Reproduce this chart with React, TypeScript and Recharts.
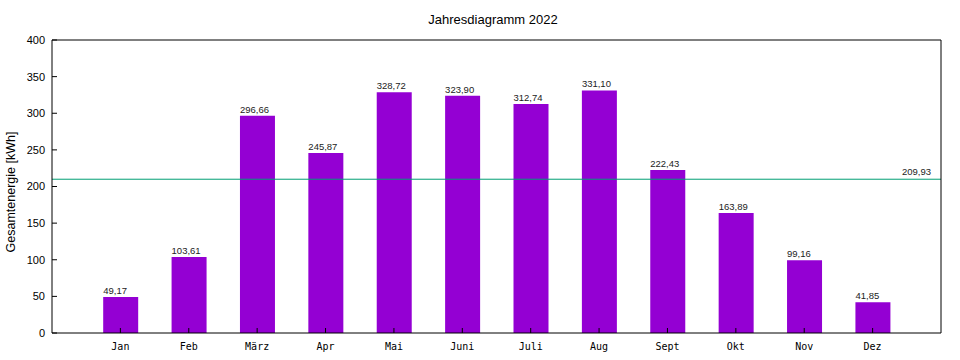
import React from "react";
import { BarChart, Bar, XAxis, YAxis, ReferenceLine, LabelList } from "recharts";

const months = ["Jan", "Feb", "März", "Apr", "Mai", "Juni", "Juli", "Aug", "Sept", "Okt", "Nov", "Dez"];
const energy = [49.17, 103.61, 296.66, 245.87, 328.72, 323.9, 312.74, 331.1, 222.43, 163.89, 99.16, 41.85];
const average = 209.93;
const yTicks = [0, 50, 100, 150, 200, 250, 300, 350, 400];
const xTicks = months.map((_, i) => i);

const data = months.map((m, i) => ({ x: i, name: m, value: energy[i] }));

const sans = "'Liberation Sans', Arial, sans-serif";
const mono = "'DejaVu Sans Mono', monospace";

const fmt = (v: number) => v.toFixed(2).replace(".", ",");

// gnuplot puts the value label at the left edge of the bar
function BarValue(props: any) {
  const { x, y, value } = props;
  return (
    <text x={x} y={y - 3} fontSize={9.5} fontFamily={sans} fill="#222">
      {fmt(Number(value))}
    </text>
  );
}

function AvgLabel(props: any) {
  const { viewBox } = props;
  return (
    <text
      x={viewBox.x + viewBox.width - 10}
      y={viewBox.y - 4}
      textAnchor="end"
      fontSize={9.5}
      fontFamily={sans}
      fill="#222"
    >
      {fmt(average)}
    </text>
  );
}

export default function App() {
  return (
    <div style={{ position: "absolute", left: 0, top: 0, width: 960, height: 360, background: "#fff" }}>
      <div
        style={{
          position: "absolute",
          left: 393,
          top: 13,
          width: 200,
          textAlign: "center",
          fontFamily: sans,
          fontSize: 13,
          lineHeight: "13px",
          color: "#000",
        }}
      >
        Jahresdiagramm 2022
      </div>
      <div
        style={{
          position: "absolute",
          left: 11,
          top: 192,
          transform: "translate(-50%, -50%) rotate(-90deg)",
          whiteSpace: "nowrap",
          fontFamily: sans,
          fontSize: 12.5,
          lineHeight: "12.5px",
          color: "#000",
        }}
      >
        Gesamtenergie [kWh]
      </div>
      <BarChart width={960} height={360} data={data} margin={{ top: 0, right: 0, bottom: 0, left: 0 }}>
        <XAxis
          dataKey="x"
          type="number"
          domain={[-1, 12]}
          ticks={xTicks}
          interval={0}
          tickFormatter={(i) => months[i]}
          height={27}
          tickSize={-5}
          tickMargin={15}
          stroke="#000"
          tick={{ fontSize: 10, fontFamily: mono, fill: "#000" }}
        />
        <XAxis
          xAxisId="top"
          orientation="top"
          dataKey="x"
          type="number"
          domain={[-1, 12]}
          ticks={xTicks}
          interval={0}
          height={40}
          tickSize={-5}
          stroke="#000"
          tick={false}
        />
        <YAxis
          domain={[0, 400]}
          ticks={yTicks}
          interval={0}
          width={52}
          tickSize={-5}
          tickMargin={12}
          stroke="#000"
          tick={{ fontSize: 11, fontFamily: sans, fill: "#000" }}
        />
        <YAxis
          yAxisId="right"
          orientation="right"
          domain={[0, 400]}
          ticks={yTicks}
          interval={0}
          width={19}
          tickSize={-5}
          stroke="#000"
          tick={false}
        />
        <Bar dataKey="value" fill="#9400D3" barSize={35} isAnimationActive={false}>
          <LabelList dataKey="value" content={BarValue} />
        </Bar>
        <ReferenceLine y={average} stroke="#009E73" strokeWidth={1} label={AvgLabel} />
      </BarChart>
    </div>
  );
}
